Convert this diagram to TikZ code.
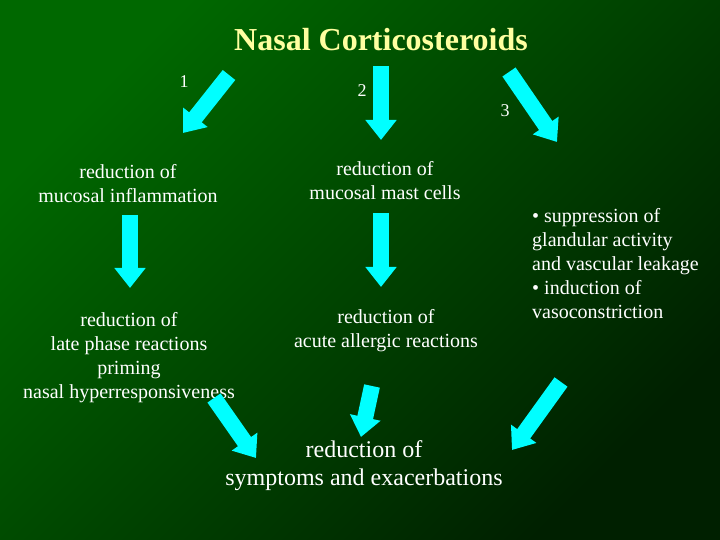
\documentclass[tikz,border=0pt]{standalone}
\usepackage{fontspec}
\setmainfont{Liberation Serif}
\usetikzlibrary{arrows.meta}
\definecolor{bgbright}{RGB}{0,104,0}
\definecolor{bgdark}{RGB}{0,32,0}
\definecolor{titlecol}{RGB}{255,255,160}
\definecolor{arrcol}{RGB}{0,255,255}
\tikzset{
  txt/.style={text=white, align=center, inner sep=0pt, font=\fontsize{20}{24}\selectfont},
  numtxt/.style={text=white, inner sep=0pt, font=\fontsize{18}{21}\selectfont},
  blockarrow/.style={draw=arrcol, line width=16pt, -{Triangle[width=30pt,length=20pt]}}
}
\begin{document}
\begin{tikzpicture}[x=1pt,y=1pt]
\useasboundingbox (0,0) rectangle (720,540);
\shade[top color=bgbright, bottom color=bgdark, shading angle=45] (0,0) rectangle (720,540);
% texts
\node[text=titlecol, inner sep=0pt, font=\fontsize{32}{38}\selectfont\bfseries] (title) at (381,500) {Nasal Corticosteroids};
\node[numtxt] (n1) at (184,458) {1};
\node[numtxt] (n2) at (362,449) {2};
\node[numtxt] (n3) at (505,429) {3};
\node[txt] (t1) at (128,356) {reduction of\\mucosal inflammation};
\node[txt] (t2) at (385,359) {reduction of\\mucosal mast cells};
\node[txt] (t3) at (129,182) {reduction of\\late phase reactions\\priming\\nasal hyperresponsiveness};
\node[txt] (t4) at (386,209) {reduction of\\acute allergic reactions};
\node[txt, font=\fontsize{24}{28}\selectfont] (t5) at (364,74) {reduction of\\symptoms and exacerbations};
\node[txt, align=left, anchor=west] (t6) at (532,276) {\textbullet{} suppression of\\glandular activity\\and vascular leakage\\\textbullet{} induction of\\vasoconstriction};
% arrow endpoints
\coordinate (a1s) at (229,465); \coordinate (a1e) at (183,407);
\coordinate (a2s) at (381,474); \coordinate (a2e) at (381,400);
\coordinate (a3s) at (509,468); \coordinate (a3e) at (557,398);
\coordinate (a4s) at (130,325); \coordinate (a4e) at (130,252);
\coordinate (a5s) at (381,327); \coordinate (a5e) at (381,253);
\coordinate (a6s) at (214,142); \coordinate (a6e) at (256,82);
\coordinate (a7s) at (372,154); \coordinate (a7e) at (361,103);
\coordinate (a8s) at (561,158); \coordinate (a8e) at (512,90);
\foreach \i in {1,...,8} {\draw[blockarrow] (a\i s) -- (a\i e);}
\end{tikzpicture}
\end{document}
